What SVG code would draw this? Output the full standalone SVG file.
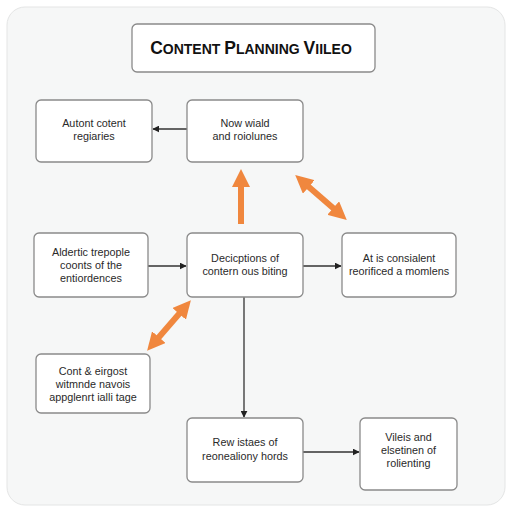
<svg xmlns="http://www.w3.org/2000/svg" width="512" height="512" viewBox="0 0 512 512">
<defs>
<style>
.bg{fill:#f6f7f7;stroke:#e4e5e5;stroke-width:1}
.node rect{fill:#ffffff;stroke:#8a8a8a;stroke-width:1.3}
.node text{font-family:"Liberation Sans",Arial,sans-serif;font-size:10.8px;fill:#2a2a2a;text-anchor:middle}
.title text{font-family:"Liberation Sans",Arial,sans-serif;font-weight:bold;fill:#111;text-anchor:middle}
.conn{stroke:#333;stroke-width:1.3;fill:none}
.orange{stroke:#f0873e;stroke-width:6;fill:none}
</style>
<marker id="ah" viewBox="0 0 10 10" refX="9" refY="5" markerWidth="7" markerHeight="7" markerUnits="userSpaceOnUse" orient="auto">
<path d="M0,0 L10,5 L0,10 z" fill="#222"/>
</marker>
<marker id="oh" viewBox="0 0 10 10" refX="5" refY="5" markerWidth="18" markerHeight="18" markerUnits="userSpaceOnUse" orient="auto-start-reverse">
<path d="M0,0 L10,5 L0,10 z" fill="#f0873e"/>
</marker>
</defs>
<rect x="0" y="0" width="512" height="512" fill="#ffffff"/>
<rect class="bg" x="7" y="7" width="498" height="498" rx="18"/>

<g id="title" class="node title">
<rect x="132" y="24" width="243" height="48" rx="5"/>
<text x="251" y="54"><tspan font-size="17.5">C</tspan><tspan font-size="14">ONTENT </tspan><tspan font-size="17.5">P</tspan><tspan font-size="14">LANNING </tspan><tspan font-size="17.5">V</tspan><tspan font-size="14">IILEO</tspan></text>
</g>

<g id="connectors">
<line class="conn" x1="187" y1="129" x2="153" y2="129" marker-end="url(#ah)"/>
<line class="conn" x1="148" y1="266" x2="186" y2="266" marker-end="url(#ah)"/>
<line class="conn" x1="303" y1="266" x2="341" y2="266" marker-end="url(#ah)"/>
<line class="conn" x1="244" y1="297" x2="244" y2="417" marker-end="url(#ah)"/>
<line class="conn" x1="303" y1="452" x2="359" y2="452" marker-end="url(#ah)"/>
<line class="orange" x1="241" y1="224" x2="241" y2="178" marker-end="url(#oh)"/>
<line class="orange" x1="302" y1="181" x2="340" y2="214" marker-start="url(#oh)" marker-end="url(#oh)"/>
<line class="orange" x1="185" y1="307" x2="153" y2="344" marker-start="url(#oh)" marker-end="url(#oh)"/>
</g>

<g id="n1" class="node">
<rect x="36" y="100" width="116" height="62" rx="5"/>
<text x="94" y="127">Autont cotent</text>
<text x="94" y="140">regiaries</text>
</g>

<g id="n2" class="node">
<rect x="187" y="100" width="116" height="62" rx="5"/>
<text x="245" y="127">Now wiald</text>
<text x="245" y="140">and roiolunes</text>
</g>

<g id="n3" class="node">
<rect x="34" y="233" width="114" height="64" rx="5"/>
<text x="91" y="256">Aldertic trepople</text>
<text x="91" y="269">coonts of the</text>
<text x="91" y="282">entiordences</text>
</g>

<g id="n4" class="node">
<rect x="187" y="233" width="116" height="64" rx="5"/>
<text x="245" y="262">Decicptions of</text>
<text x="245" y="275">contern ous biting</text>
</g>

<g id="n5" class="node">
<rect x="342" y="233" width="114" height="64" rx="5"/>
<text x="399" y="262">At is consialent</text>
<text x="399" y="275">reorificed a momlens</text>
</g>

<g id="n6" class="node">
<rect x="36" y="354" width="114" height="59" rx="5"/>
<text x="93" y="375">Cont &amp; eirgost</text>
<text x="93" y="388">witmnde navois</text>
<text x="93" y="401">appglenrt ialli tage</text>
</g>

<g id="n7" class="node">
<rect x="187" y="418" width="116" height="64" rx="5"/>
<text x="245" y="446">Rew istaes of</text>
<text x="245" y="460">reonealiony hords</text>
</g>

<g id="n8" class="node">
<rect x="360" y="418" width="97" height="72" rx="5"/>
<text x="408.5" y="441">Vileis and</text>
<text x="408.5" y="454">elsetinen of</text>
<text x="408.5" y="467">rolienting</text>
</g>
</svg>
